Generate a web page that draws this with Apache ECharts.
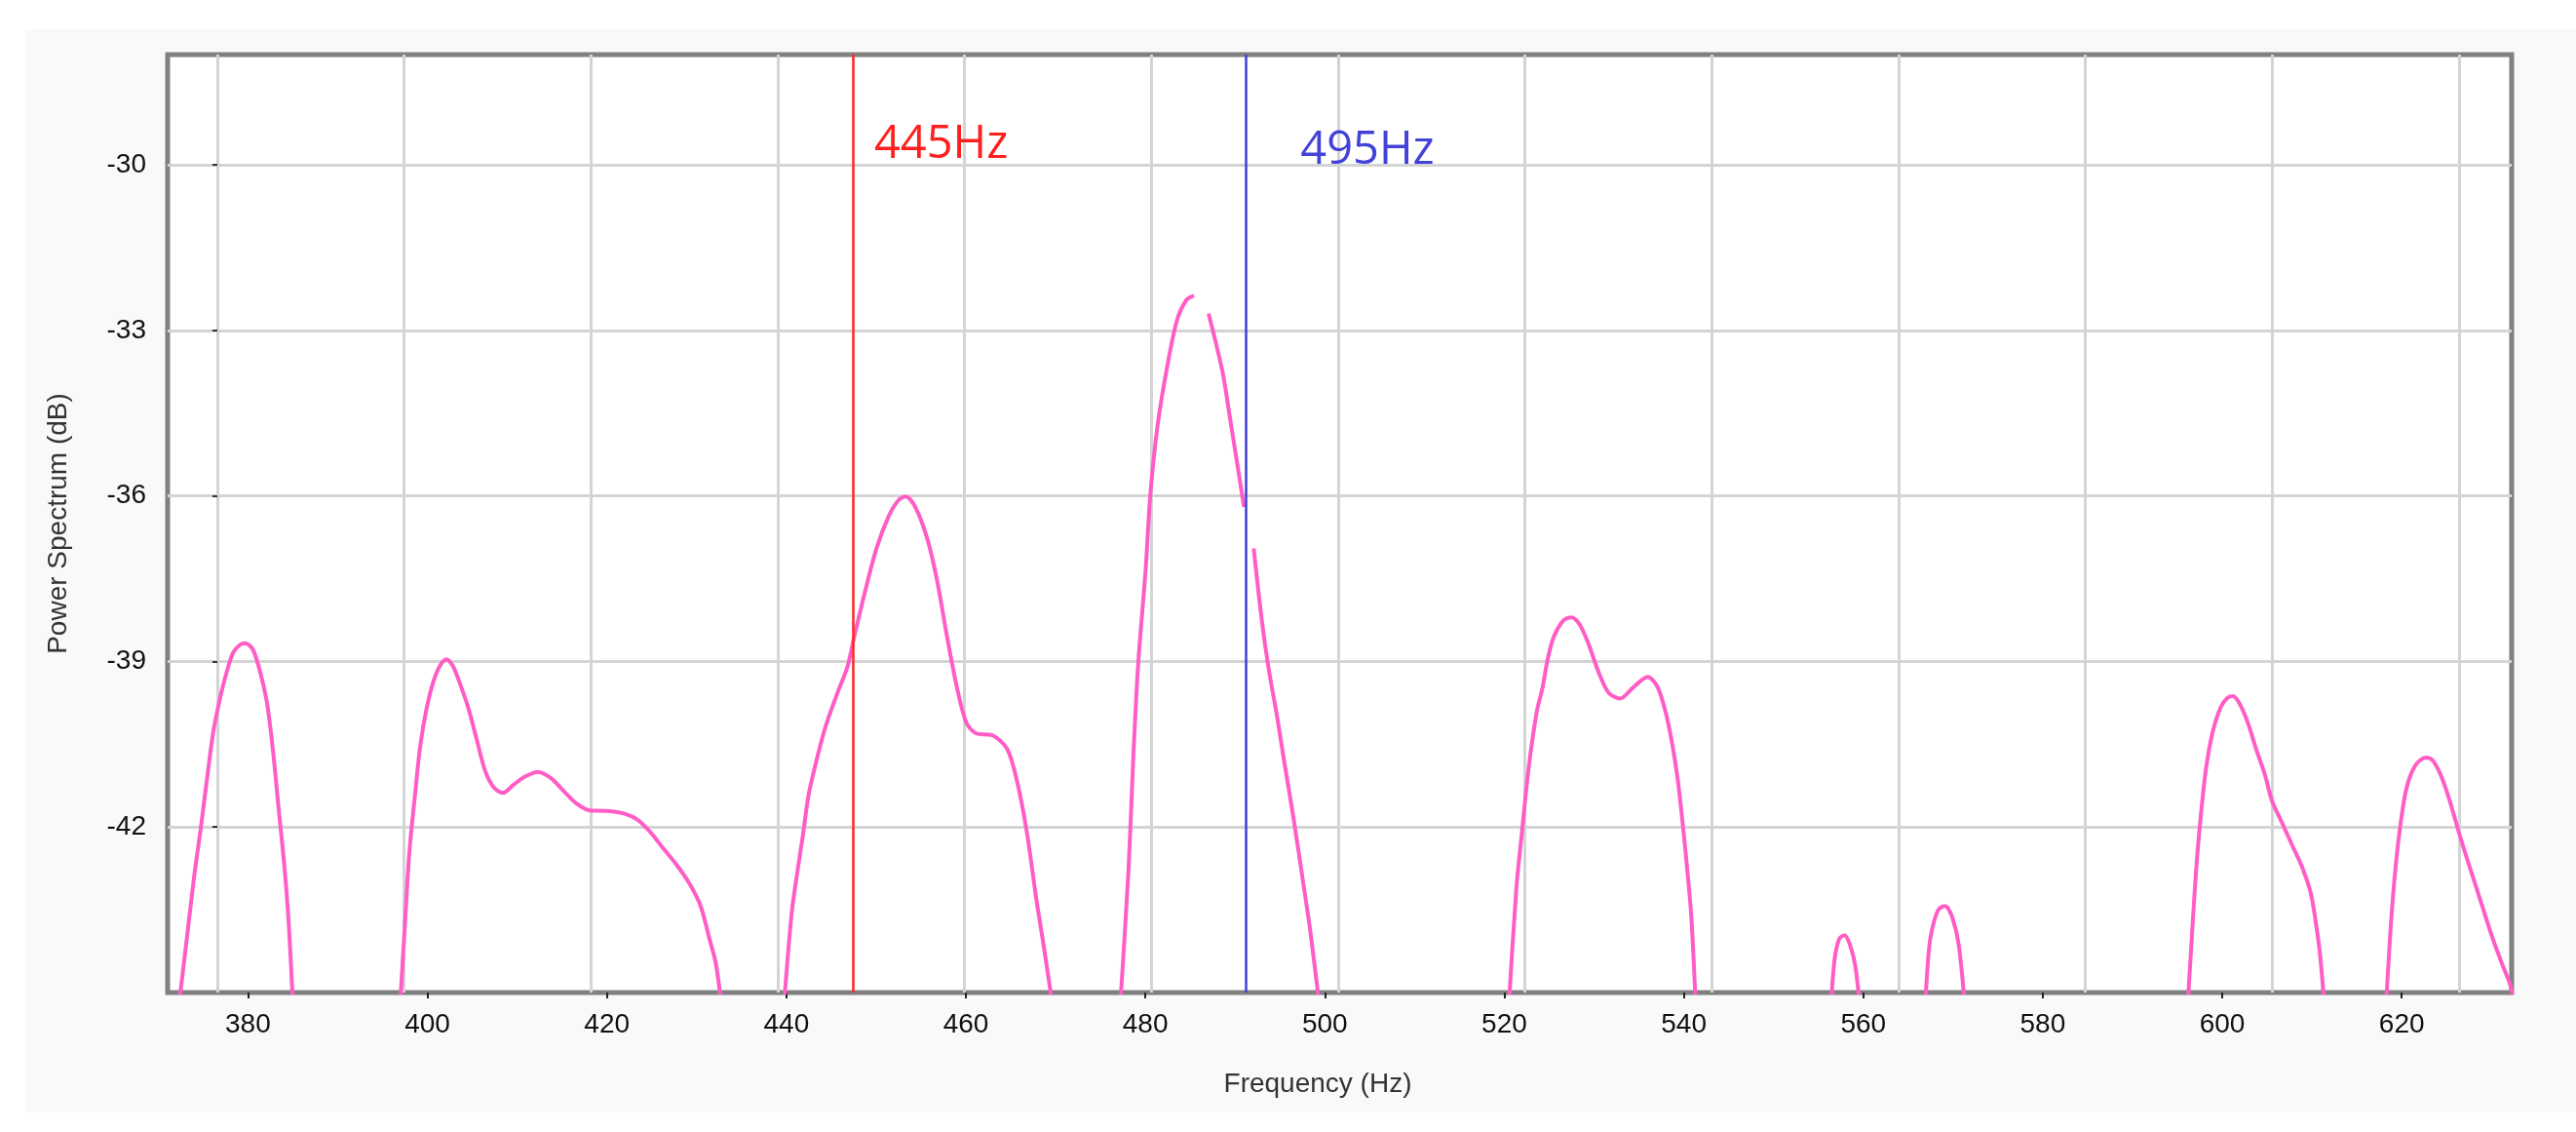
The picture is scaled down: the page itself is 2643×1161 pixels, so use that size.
<!DOCTYPE html>
<html><head><meta charset="utf-8">
<script src="https://cdn.jsdelivr.net/npm/echarts@6/dist/echarts.min.js"></script>
<style>
html,body{margin:0;padding:0;background:#fff;width:2643px;height:1161px;overflow:hidden}
#c{position:absolute;left:26px;top:30px;width:2617px;height:1111px;}
</style>
</head><body><div id="c"></div>
<script>
// ---- data (null = break in the trace) ----
const frequencyHz = [
  372.1,373.27,374.0,374.72,375.45,376.17,376.9,377.63,378.35,379.08,379.71,380.54,381.36,382.14,382.81,383.44,384.08,384.56,385.1,null,
  396.85,397.5,397.99,398.62,399.2,399.93,400.65,401.38,402.11,402.83,403.56,404.53,405.5,406.47,407.44,408.41,409.62,410.83,412.29,413.74,415.19,416.65,418.1,420.04,421.98,423.43,424.88,426.34,427.79,429.25,430.46,431.43,432.16,432.95,null,
  439.6,440.58,441.28,441.82,442.47,443.28,444.36,445.71,446.79,447.6,448.69,450.04,451.39,452.47,453.28,454.36,455.71,456.79,457.87,458.95,460.03,461.11,463.0,464.62,465.7,466.78,467.86,468.67,469.9,null,
  477.1,478.13,478.67,479.21,480.02,480.56,481.37,482.45,483.53,484.61,485.42,null,487.04,487.85,488.66,489.47,490.28,490.99,null,492.07,492.99,493.8,494.61,495.42,496.5,497.58,498.39,499.6,null,
  520.4,521.35,521.96,522.5,523.03,523.64,524.25,524.78,525.32,525.93,526.69,527.45,528.36,529.35,530.5,531.64,532.93,534.3,535.98,536.97,537.73,538.49,539.26,539.87,540.4,540.86,541.4,null,
  556.3,556.78,557.31,557.92,558.53,559.14,559.75,null,
  566.8,567.29,567.67,568.36,569.12,569.88,570.64,571.45,null,
  596.05,596.62,597.08,597.53,598.14,598.9,599.82,600.58,601.19,601.95,602.87,603.78,604.77,605.53,606.68,607.82,608.96,609.88,610.48,610.94,611.5,null,
  618.15,618.71,619.17,619.78,620.54,621.53,622.67,623.43,624.35,625.34,626.48,627.62,628.77,629.91,631.06,632.04,633.0
];
const powerDb = [
  -45.5,-43.91,-42.9,-42.05,-41.11,-40.24,-39.66,-39.19,-38.84,-38.70,-38.67,-38.78,-39.19,-39.77,-40.65,-41.70,-42.75,-43.79,-45.5,null,
  -45.5,-43.74,-42.45,-41.41,-40.53,-39.83,-39.37,-39.08,-38.96,-39.08,-39.37,-39.83,-40.42,-41.0,-41.29,-41.38,-41.23,-41.09,-41.0,-41.11,-41.35,-41.58,-41.7,-41.71,-41.76,-41.87,-42.1,-42.4,-42.69,-43.04,-43.44,-44.03,-44.49,-45.5,null,
  -45.5,-43.57,-42.75,-42.17,-41.42,-40.84,-40.18,-39.56,-39.1,-38.52,-37.78,-36.95,-36.37,-36.08,-36.01,-36.2,-36.78,-37.53,-38.52,-39.43,-40.1,-40.3,-40.34,-40.59,-41.17,-42.08,-43.32,-44.15,-45.5,null,
  -45.5,-42.75,-40.68,-39.02,-37.36,-35.96,-34.71,-33.64,-32.81,-32.44,-32.37,null,-32.69,-33.22,-33.8,-34.63,-35.46,-36.2,null,-36.95,-38.27,-39.19,-39.93,-40.76,-41.83,-43.0,-43.9,-45.5,null,
  -45.5,-43.09,-42.1,-41.23,-40.53,-39.89,-39.48,-39.0,-38.64,-38.41,-38.24,-38.2,-38.32,-38.67,-39.19,-39.57,-39.67,-39.48,-39.28,-39.43,-39.77,-40.3,-41.06,-41.93,-42.8,-43.68,-45.5,null,
  -45.5,-44.43,-44.03,-43.96,-44.14,-44.55,-45.5,null,
  -45.5,-44.26,-43.85,-43.5,-43.43,-43.62,-44.14,-45.5,null,
  -45.5,-43.97,-42.8,-41.93,-41.0,-40.3,-39.83,-39.66,-39.63,-39.77,-40.12,-40.59,-41.06,-41.52,-41.93,-42.34,-42.75,-43.21,-43.79,-44.38,-45.5,null,
  -45.5,-43.97,-42.98,-42.05,-41.29,-40.88,-40.74,-40.79,-41.06,-41.52,-42.16,-42.75,-43.33,-43.91,-44.43,-44.84,-45.4
];
const xTickValues = [380,400,420,440,460,480,500,520,540,560,580,600,620];
const yTickValues = [-42,-39,-36,-33,-30];
const gridLineSteps = [0,1,2,3,4,5,6,7,8,9,10,11,12];
const markerHz = [447.4, 491.2];
const markerText = ['445Hz', '495Hz'];

// ---- chart ----
const markerColors = ['#ff2424', '#3f3fd6'];
const labelColors = ['#ff1f1f', '#4242d8'];
const labelOffsets = [[22, -21], [56, -15]];
const axisFont = '"Liberation Sans", Arial, sans-serif';

const seriesData = frequencyHz.map((f, i) =>
  (f === null || powerDb[i] === null) ? ['-', '-'] : [f, powerDb[i]]);

const option = {
  animation: false,
  backgroundColor: '#f9f9f9',
  grid: { left: 146, top: 26, right: 66, bottom: 123, show: true,
          backgroundColor: '#ffffff', borderColor: '#808080', borderWidth: 5 },
  xAxis: [
    { type: 'value', min: 371.05, max: 632.25, position: 'bottom',
      axisLine: { show: false },
      axisTick: { show: true, customValues: xTickValues, length: 6, lineStyle: { color: '#222', width: 2 } },
      axisLabel: { customValues: xTickValues, margin: 19, fontSize: 28, fontFamily: axisFont, color: '#111' },
      splitLine: { show: false },
      name: 'Frequency (Hz)', nameLocation: 'middle', nameGap: 80,
      nameTextStyle: { fontSize: 28, fontFamily: axisFont, color: '#333', padding: [0, 45, 0, 0] } },
    { type: 'value', min: -0.266, max: 12.282, position: 'top',
      axisLine: { show: false },
      axisTick: { show: false, customValues: gridLineSteps },
      axisLabel: { show: false },
      splitLine: { show: true, lineStyle: { color: '#d4d4d4', width: 3 } } }
  ],
  yAxis: {
    type: 'value', min: -45, max: -28,
    axisLine: { show: false },
    axisTick: { show: true, customValues: yTickValues, length: 5, lineStyle: { color: '#333', width: 2 } },
    axisLabel: { customValues: yTickValues, margin: 22, fontSize: 28, fontFamily: axisFont, color: '#111' },
    splitLine: { show: true, lineStyle: { color: '#d4d4d4', width: 3 } },
    name: 'Power Spectrum (dB)', nameLocation: 'middle', nameGap: 98,
    nameTextStyle: { fontSize: 28, fontFamily: axisFont, color: '#333' }
  },
  series: [{
    type: 'line', xAxisIndex: 0, yAxisIndex: 0,
    data: seriesData, showSymbol: false, smooth: 0.3, connectNulls: false, clip: true,
    lineStyle: { color: '#ff5cc6', width: 4 },
    emphasis: { disabled: true },
    markLine: {
      silent: true, symbol: ['none', 'none'], animation: false,
      label: { show: false },
      data: markerHz.map((hz, i) => ({ xAxis: hz, lineStyle: { color: markerColors[i], width: 2.5, type: 'solid' } }))
    }
  }]
};

const chart = echarts.init(document.getElementById('c'));
chart.setOption(option);

const topTick = yTickValues[yTickValues.length - 1];
chart.setOption({
  graphic: markerHz.map((hz, i) => {
    const p = chart.convertToPixel({ seriesIndex: 0 }, [hz, topTick]);
    return { type: 'text', z: 100, x: p[0] + labelOffsets[i][0], y: p[1] + labelOffsets[i][1],
      style: { text: markerText[i], fill: labelColors[i], fontSize: 47,
               fontFamily: '"Open Sans", "Noto Sans", sans-serif', align: 'left', verticalAlign: 'middle' } };
  })
});
</script>
</body></html>
